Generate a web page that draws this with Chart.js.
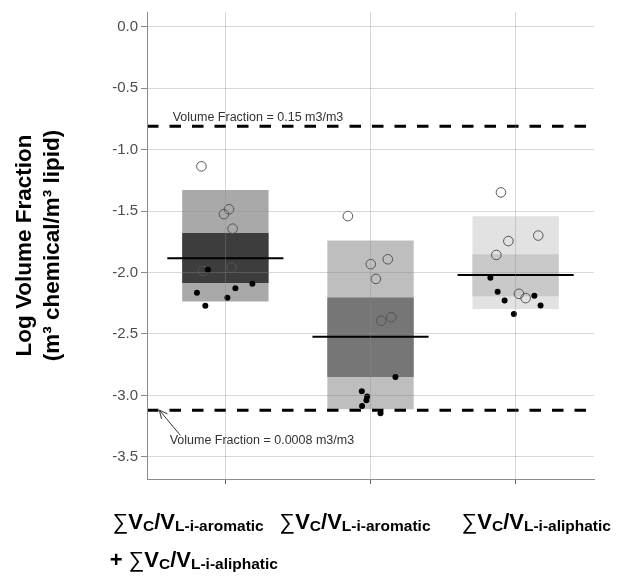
<!DOCTYPE html>
<html>
<head>
<meta charset="utf-8">
<script src="https://cdn.jsdelivr.net/npm/chart.js@4"></script>
<style>
  html, body { margin: 0; padding: 0; background: #fff; }
  #wrap { width: 643px; height: 587px; }
</style>
</head>
<body>
<div id="wrap"><canvas id="myChart" width="643" height="587"></canvas></div>
<script>
const FONT = '"Liberation Sans", Arial, sans-serif';

// group positions on the x axis
const groups = [1, 2, 3];

// shaded ranges (outer and inner) and medians, log volume fraction
const outerLow = [-2.235, -3.113, -2.297];
const outerHigh = [-1.329, -1.739, -1.541];
const innerLow = [-2.085, -2.851, -2.192];
const innerHigh = [-1.678, -2.203, -1.851];
const medians = [-1.883, -2.522, -2.020];

const outerColors = ['#a9a9a9', '#bebebe', '#e2e2e2'];
const innerColors = ['#3d3d3d', '#767676', '#c9c9c9'];

// open circles
const openX = [0.835, 1.025, 0.990, 1.050, 1.043, 0.846,
               1.844, 2.002, 2.119, 2.037, 2.074, 2.143,
               2.899, 2.950, 3.156, 2.867, 3.023, 3.069];
const openY = [-1.136, -1.485, -1.525, -1.643, -1.959, -1.988,
               -1.541, -1.932, -1.892, -2.052, -2.393, -2.363,
               -1.348, -1.744, -1.699, -1.857, -2.173, -2.208];

// filled dots
const filledX = [0.880, 0.804, 0.862, 1.014, 1.069, 1.186,
                 2.172, 1.940, 1.977, 1.972, 1.942, 2.069,
                 2.826, 2.876, 2.924, 3.129, 3.172, 2.988];
const filledY = [-1.977, -2.165, -2.270, -2.205, -2.128, -2.092,
                 -2.851, -2.966, -3.009, -3.039, -3.087, -3.146,
                 -2.042, -2.157, -2.227, -2.189, -2.269, -2.337];

// reference volume fractions (log)
const refValues = [-0.81, -3.12];
const refLabels = ['Volume Fraction = 0.15 m3/m3', 'Volume Fraction = 0.0008 m3/m3'];

// y tick labels
const yTicks = ['0.0', '-0.5', '-1.0', '-1.5', '-2.0', '-2.5', '-3.0', '-3.5'];

// x labels: [text, kind] kind 0 = sigma, 1 = main, 2 = subscript
const xLabels = [
  [[['∑', 0], ['V', 1], ['C', 2], ['/V', 1], ['L-i-aromatic', 2]],
   [['+ ', 1], ['∑', 0], ['V', 1], ['C', 2], ['/V', 1], ['L-i-aliphatic', 2]]],
  [[['∑', 0], ['V', 1], ['C', 2], ['/V', 1], ['L-i-aromatic', 2]]],
  [[['∑', 0], ['V', 1], ['C', 2], ['/V', 1], ['L-i-aliphatic', 2]]]
];
const labelShift = [[-112.7, -115.7], [-91], [-54]];

const xMin = 0.46, xMax = 3.54;
const yMin = -3.68, yMax = 0.12;

const pts = (xs, ys) => xs.map((x, i) => ({x: x, y: ys[i]}));

const medianData = [];
groups.forEach((g, i) => {
    medianData.push({x: g - 0.4, y: medians[i]}, {x: g + 0.4, y: medians[i]}, {x: g + 0.5, y: null});
});
const refData = [];
refValues.forEach(v => {
    refData.push({x: xMin, y: v}, {x: xMax, y: v}, {x: xMax, y: null});
});

const xLabelPlugin = {
    id: 'xLabelPlugin',
    afterDraw(chart) {
        const ctx = chart.ctx;
        const xs = chart.scales.x;
        const fonts = ['22px ' + FONT, 'bold 22px ' + FONT, 'bold 15.5px ' + FONT];
        const dy = [0, 0, 2];
        ctx.save();
        ctx.fillStyle = '#000';
        ctx.textBaseline = 'alphabetic';
        ctx.textAlign = 'left';
        xLabels.forEach((lines, i) => {
            const cx = xs.getPixelForValue(groups[i]);
            lines.forEach((runs, j) => {
                let px = cx + labelShift[i][j];
                const base = xs.top + 50 + j * 38;
                runs.forEach(([t, k]) => {
                    ctx.font = fonts[k];
                    ctx.fillText(t, px, base + dy[k]);
                    px += ctx.measureText(t).width;
                });
            });
        });

        // reference line notes
        const ys = chart.scales.y;
        ctx.font = '12.5px ' + FONT;
        ctx.fillStyle = '#333';
        ctx.textBaseline = 'middle';
        ctx.fillText(refLabels[0], xs.getPixelForValue(0.637), ys.getPixelForValue(refValues[0] + 0.068));
        ctx.fillText(refLabels[1], xs.getPixelForValue(0.616), ys.getPixelForValue(refValues[1] - 0.25));

        // arrow to lower line
        const x0 = xs.getPixelForValue(0.69), y0 = ys.getPixelForValue(refValues[1] - 0.205);
        const x1 = xs.getPixelForValue(0.545), y1 = ys.getPixelForValue(refValues[1]);
        const a = Math.atan2(y1 - y0, x1 - x0);
        ctx.strokeStyle = '#333';
        ctx.lineWidth = 1;
        ctx.beginPath();
        ctx.moveTo(x0, y0);
        ctx.lineTo(x1, y1);
        ctx.moveTo(x1 - 9 * Math.cos(a - 0.45), y1 - 9 * Math.sin(a - 0.45));
        ctx.lineTo(x1, y1);
        ctx.lineTo(x1 - 9 * Math.cos(a + 0.45), y1 - 9 * Math.sin(a + 0.45));
        ctx.stroke();
        ctx.restore();
    }
};

const ctx = document.getElementById('myChart').getContext('2d');

const config = {
    type: 'scatter',
    data: {
        datasets: [
            {
                type: 'bar',
                data: groups.map((g, i) => ({x: g, y: [outerLow[i], outerHigh[i]]})),
                backgroundColor: outerColors,
                grouped: false,
                barPercentage: 0.595,
                categoryPercentage: 1,
                order: 6
            },
            {
                type: 'bar',
                data: groups.map((g, i) => ({x: g, y: [innerLow[i], innerHigh[i]]})),
                backgroundColor: innerColors,
                grouped: false,
                barPercentage: 0.595,
                categoryPercentage: 1,
                order: 5
            },
            {
                type: 'line',
                data: medianData,
                borderColor: '#000',
                borderWidth: 2,
                pointRadius: 0,
                spanGaps: false,
                order: 4
            },
            {
                type: 'line',
                data: refData,
                borderColor: '#000',
                borderWidth: 3,
                borderDash: [11.5, 11],
                pointRadius: 0,
                spanGaps: false,
                order: 3
            },
            {
                data: pts(openX, openY),
                pointRadius: 4.8,
                pointBorderWidth: 1,
                pointBorderColor: '#555',
                pointBackgroundColor: 'rgba(0,0,0,0)',
                order: 2
            },
            {
                data: pts(filledX, filledY),
                pointRadius: 3,
                pointBorderWidth: 0,
                pointBackgroundColor: '#000',
                order: 1
            }
        ]
    },
    options: {
        responsive: false,
        animation: false,
        layout: { padding: { top: 7, right: 49, left: 0, bottom: 0 } },
        plugins: { legend: { display: false }, tooltip: { enabled: false } },
        scales: {
            x: {
                type: 'linear',
                min: xMin,
                max: xMax,
                offset: false,
                grid: { offset: false, z: 1, color: 'rgba(140,140,140,0.35)', tickColor: '#666', tickLength: 5 },
                border: { color: '#8c8c8c', width: 1, z: 2 },
                ticks: { stepSize: 1, includeBounds: false, display: false },
                afterFit: s => { s.height = 108; }
            },
            y: {
                min: yMin,
                max: yMax,
                grid: { z: 1, color: 'rgba(140,140,140,0.35)', tickColor: '#888', tickLength: 6 },
                border: { color: '#8c8c8c', width: 1, z: 2 },
                ticks: {
                    stepSize: 0.5,
                    includeBounds: false,
                    padding: 3,
                    color: '#4d4d4d',
                    font: { family: FONT, size: 15 },
                    callback: v => yTicks[Math.round(-v / 0.5)]
                },
                title: {
                    display: true,
                    text: ['Log Volume Fraction', '(m³ chemical/m³ lipid)'],
                    color: '#000',
                    font: { family: FONT, size: 22.5, weight: 'bold', lineHeight: 1.25 },
                    padding: { top: 11, bottom: 0 }
                },
                afterFit: s => { s.width = 147; }
            }
        }
    },
    plugins: [xLabelPlugin]
};

const myChart = new Chart(ctx, config);
</script>
</body>
</html>
